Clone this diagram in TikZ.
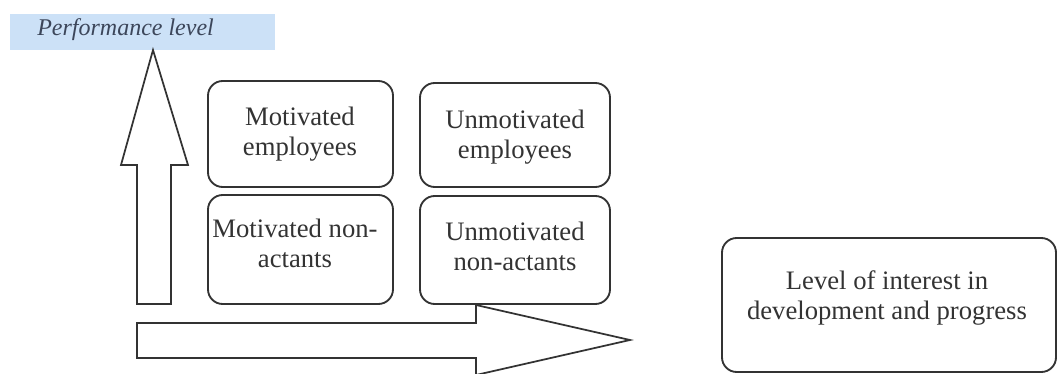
\documentclass[tikz,border=0pt]{standalone}
\usepackage{fontspec}
\setmainfont{Liberation Serif}
\begin{document}
\begin{tikzpicture}[x=0.75pt,y=-0.75pt,
  box/.style={draw=black!80,line width=1.4pt,rounded corners=11pt},
  boxtext/.style={align=center,font=\fontsize{20}{22.5}\selectfont,text=black!80},
  blockarrow/.style={draw=black!80,line width=1.3pt,fill=white,line join=miter}]
\useasboundingbox (0,0) rectangle (1058,374);
% Performance level label
\fill[fill={rgb,255:red,204;green,225;blue,247}] (10,14) rectangle (275,50);
\node[anchor=base west,inner sep=0pt,font=\fontsize{18}{20}\itshape,text={rgb,255:red,60;green,70;blue,90}] (perf) at (37,36) {Performance level};
% vertical block arrow
\draw[blockarrow] (137,304) -- (137,165) -- (121,165) -- (153,50) -- (188,165) -- (171,165) -- (171,304) -- cycle;
% horizontal block arrow
\draw[blockarrow] (137,323) -- (476,323) -- (476,305) -- (630,340) -- (476,375) -- (476,358) -- (137,358) -- cycle;
% boxes
\draw[box] (208,81) rectangle (393,187);
\node[boxtext] (t1) at (300,134) {Motivated\\employees};
\draw[box] (420,83) rectangle (610,187);
\node[boxtext] (t2) at (515,137) {Unmotivated\\employees};
\draw[box] (208,195) rectangle (393,304);
\node[boxtext] (t3) at (295,243) {Motivated non-\\actants};
\draw[box] (420,196) rectangle (610,304);
\node[boxtext] (t4) at (515,246) {Unmotivated\\non-actants};
\draw[box] (722,238) rectangle (1056,372);
\node[boxtext] (t5) at (887,298) {Level of interest in\\development and progress};
\end{tikzpicture}
\end{document}
